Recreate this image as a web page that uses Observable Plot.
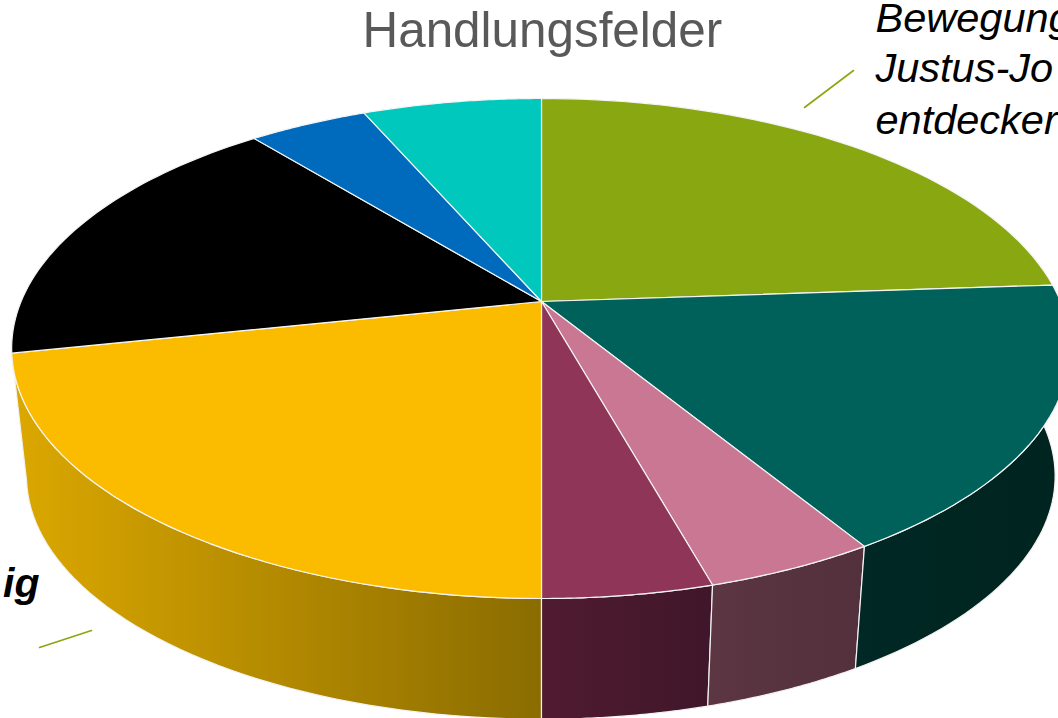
<!DOCTYPE html>
<html lang="de">
<head>
<meta charset="utf-8">
<title>Handlungsfelder</title>
<script src="https://cdn.jsdelivr.net/npm/d3@7"></script>
<script src="https://cdn.jsdelivr.net/npm/@observablehq/plot@0.6"></script>
<style>
html,body{margin:0;padding:0;background:#fff;overflow:hidden}
svg{display:block}
</style>
</head>
<body>
<div id="chart"></div>
<script>
// Slice shares in percent, clockwise from 12 o'clock
const shares = [23.9, 17.35, 4.4, 4.35, 21.7, 17.4, 4.35, 6.55];
const topColors = ["#89a711", "#00605a", "#c97792", "#8f3557", "#fbbc00", "#000000", "#006bbd", "#00c8bc"];
// Wall gradient (from, to) of the slices whose side is visible
const wallFrom = [null, "#002824", "#5c3642", "#501b30", "#dca800", null, null, null];
const wallTo   = [null, "#002420", "#52303c", "#40162a", "#8a6c00", null, null, null];

const titleText = [{text: "Handlungsfelder", x: 362, y: 46}];
const italicLabels = [
  {text: "Bewegung", x: 875, y: 31},
  {text: "Justus-Jo", x: 875, y: 81},
  {text: "entdecker", x: 875, y: 133}
];
const boldLabels = [{text: "ig", x: 39, y: 596}];
const leaderA = [{x: 804, y: 107}, {x: 853, y: 70}];
const leaderB = [{x: 39, y: 647}, {x: 91, y: 630}];

// Perspective of the tilted disc
const apex = {x: 541, y: 301}, upReach = 203, downReach = 297, leftReach = 520.4, rightReach = 519;
const tilt = (downReach - upReach) / (downReach + upReach);
const depth = {scale: 0.972, drop: 129};

function rim(angle, lower) {
  const X = Math.sin(angle), Y = Math.cos(angle), w = 1 + tilt * Y;
  const g = upReach * (1 + tilt);
  let x = apex.x + (X > 0 ? rightReach : leftReach) * X / w, y = apex.y - g * Y / w;
  if (lower) {
    x = apex.x + (x - apex.x) * depth.scale;
    y = apex.y + (y - apex.y) * depth.scale + depth.drop;
  }
  return {x, y};
}
const total = d3.sum(shares);
const cum = d3.cumsum(shares);
const startAngle = i => (i ? cum[i - 1] : 0) / total * 2 * Math.PI;
const endAngle = i => cum[i] / total * 2 * Math.PI;
const arc = (i, lower) => d3.range(49).map(k => rim(startAngle(i) + (endAngle(i) - startAngle(i)) * k / 48, lower));

const facePoints = i => [apex, ...arc(i, false), apex];
const wallPoints = i => [...arc(i, false), ...arc(i, true).reverse(), rim(startAngle(i), false)];

function gradients() {
  const ns = "http://www.w3.org/2000/svg";
  const defs = document.createElementNS(ns, "defs");
  wallFrom.forEach((c, i) => {
    if (!c) return;
    const g = document.createElementNS(ns, "linearGradient");
    g.setAttribute("id", "wall" + i);
    [[0, c], [1, wallTo[i]]].forEach(([o, col]) => {
      const s = document.createElementNS(ns, "stop");
      s.setAttribute("offset", o);
      s.setAttribute("stop-color", col);
      g.appendChild(s);
    });
    defs.appendChild(g);
  });
  return defs;
}

const wallOrder = [4, 3, 2, 1];
const sans = "'Liberation Sans', Arial, sans-serif";

const chart = Plot.plot({
  width: 1058,
  height: 718,
  margin: 0,
  x: {domain: [0, 1058], range: [0, 1058], axis: null},
  y: {domain: [0, 718], range: [0, 718], axis: null},
  style: {background: "#fff", fontFamily: sans},
  marks: [
    gradients,
    ...wallOrder.map(i => Plot.line(wallPoints(i), {x: "x", y: "y", fill: `url(#wall${i})`, stroke: "#f2f2f2", strokeWidth: 1.2, curve: "linear"})),
    ...shares.map((_, i) => Plot.line(facePoints(i), {x: "x", y: "y", fill: topColors[i], stroke: "#f4f4f4", strokeWidth: 1.2, curve: "linear", strokeLinejoin: "round"})),
    Plot.line(leaderA, {x: "x", y: "y", stroke: "#89a711", strokeWidth: 1.6}),
    Plot.line(leaderB, {x: "x", y: "y", stroke: "#89a711", strokeWidth: 1.6}),
    Plot.text(titleText, {x: "x", y: "y", text: "text", textAnchor: "start", lineAnchor: "bottom", fontSize: 49.4, fill: "#595959"}),
    Plot.text(italicLabels, {x: "x", y: "y", text: "text", textAnchor: "start", lineAnchor: "bottom", fontSize: 41.5, fontStyle: "italic", fill: "#000"}),
    Plot.text(boldLabels, {x: "x", y: "y", text: "text", textAnchor: "end", lineAnchor: "bottom", fontSize: 41, fontStyle: "italic", fontWeight: "bold", fill: "#000"})
  ]
});
document.getElementById("chart").appendChild(chart);
</script>
</body>
</html>
